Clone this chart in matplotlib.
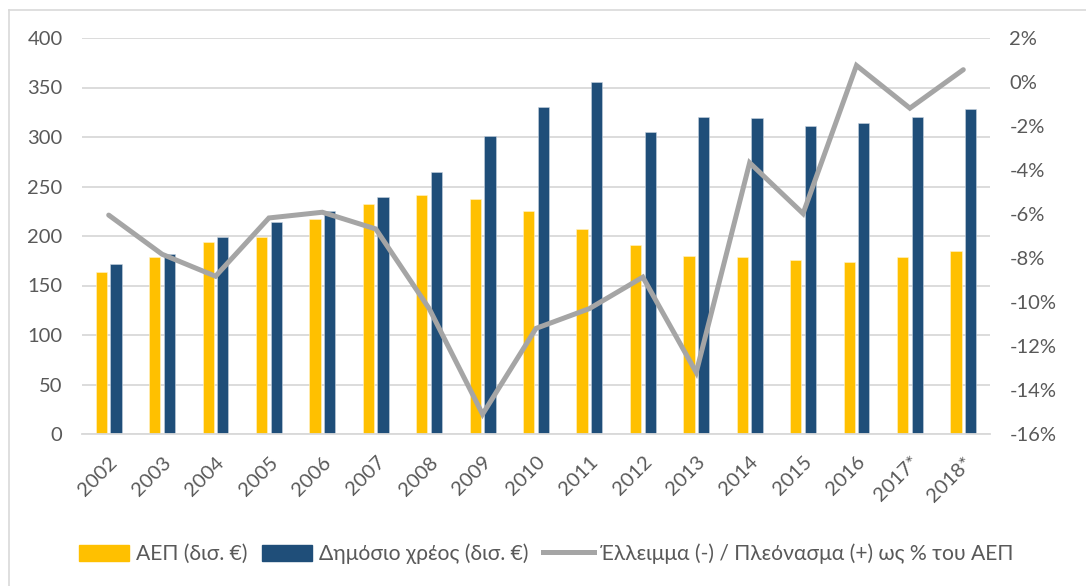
import matplotlib
matplotlib.use("Agg")
import matplotlib.pyplot as plt
from matplotlib.lines import Line2D
from matplotlib.patches import Patch
from matplotlib.ticker import FuncFormatter
import numpy as np

years = ["2002", "2003", "2004", "2005", "2006", "2007", "2008", "2009", "2010",
         "2011", "2012", "2013", "2014", "2015", "2016", "2017*", "2018*"]
gdp = [163.3, 178.8, 193.6, 199.0, 217.5, 232.6, 241.7, 237.4, 225.6,
       206.8, 190.9, 180.1, 178.5, 176.1, 173.7, 178.5, 184.5]
debt = [171.4, 181.5, 199.0, 213.8, 225.3, 239.4, 264.3, 300.7, 330.3,
        355.9, 304.7, 319.9, 319.2, 311.1, 314.5, 320.2, 328.3]
balance = [-6.05, -7.83, -8.83, -6.18, -5.92, -6.68, -10.3, -15.1, -11.2,
           -10.3, -8.87, -13.2, -3.67, -5.98, 0.75, -1.19, 0.56]

label_gdp = "ΑΕΠ (δισ. €)"
label_debt = "Δημόσιο χρέος (δισ. €)"
label_bal = "Έλλειμμα (-) / Πλεόνασμα (+) ως % του ΑΕΠ"

plt.rcParams['font.family'] = ['Lato', 'DejaVu Sans']

W, H = 1086, 586
fig = plt.figure(figsize=(W / 100, H / 100), dpi=100)
ax = fig.add_axes([82 / W, 1 - 434 / H, (990 - 82) / W, (434 - 38) / H])

x = np.arange(len(years))
bw = 0.21
off = 0.137
ax.bar(x - off, gdp, width=bw, color="#FFC000", zorder=2, edgecolor="#FFF3CC", linewidth=0.4)
ax.bar(x + off, debt, width=bw, color="#1F4E79", zorder=2, edgecolor="#C8D3E0", linewidth=0.4)

ax.set_xlim(-0.5, len(years) - 0.5)
ax.set_ylim(0, 400)
ax.set_yticks(range(0, 401, 50))
ax.yaxis.grid(True, color="#D9D9D9", linewidth=1.3, zorder=0)
ax.set_axisbelow(True)
for s in ["top", "right", "left"]:
    ax.spines[s].set_visible(False)
ax.spines["bottom"].set_color("#D9D9D9")
ax.spines["bottom"].set_linewidth(1.3)
ax.tick_params(axis="both", length=0, colors="#595959", labelsize=14.5)
ax.tick_params(axis="y", pad=14)
ax.set_xticks(x)
ax.set_xticklabels(years, rotation=45, ha="right", rotation_mode="anchor")
ax.tick_params(axis="x", pad=14)

ax2 = ax.twinx()
ax2.plot(x, balance, color="#A5A5A5", linewidth=3.6, zorder=3, solid_capstyle="round",
         solid_joinstyle="miter")
ax2.set_ylim(-16, 2)
ax2.set_yticks(range(-16, 3, 2))
ax2.yaxis.set_major_formatter(FuncFormatter(lambda v, p: f"{int(v)}%"))
for s in ["top", "right", "left", "bottom"]:
    ax2.spines[s].set_visible(False)
ax2.tick_params(axis="y", length=0, colors="#595959", labelsize=14.5, pad=14)

handles = [Patch(color="#FFC000", label=label_gdp),
           Patch(color="#1F4E79", label=label_debt),
           Line2D([0], [0], color="#A5A5A5", linewidth=3.6, label=label_bal)]
leg = fig.legend(handles=handles, loc="center", bbox_to_anchor=(546 / W, 1 - 554 / H),
                 ncol=3, frameon=False, fontsize=15.2, handlelength=2.4, handleheight=0.85,
                 handletextpad=0.3, columnspacing=0.7, labelcolor="#595959")

fig.add_artist(Line2D([9 / W, 1], [1 - 9.5 / H, 1 - 9.5 / H], color="#D9D9D9", linewidth=1.2))
fig.add_artist(Line2D([9 / W, 9 / W], [0, 1 - 9.5 / H], color="#D9D9D9", linewidth=1.2))

fig.savefig("out.png", dpi=100)
